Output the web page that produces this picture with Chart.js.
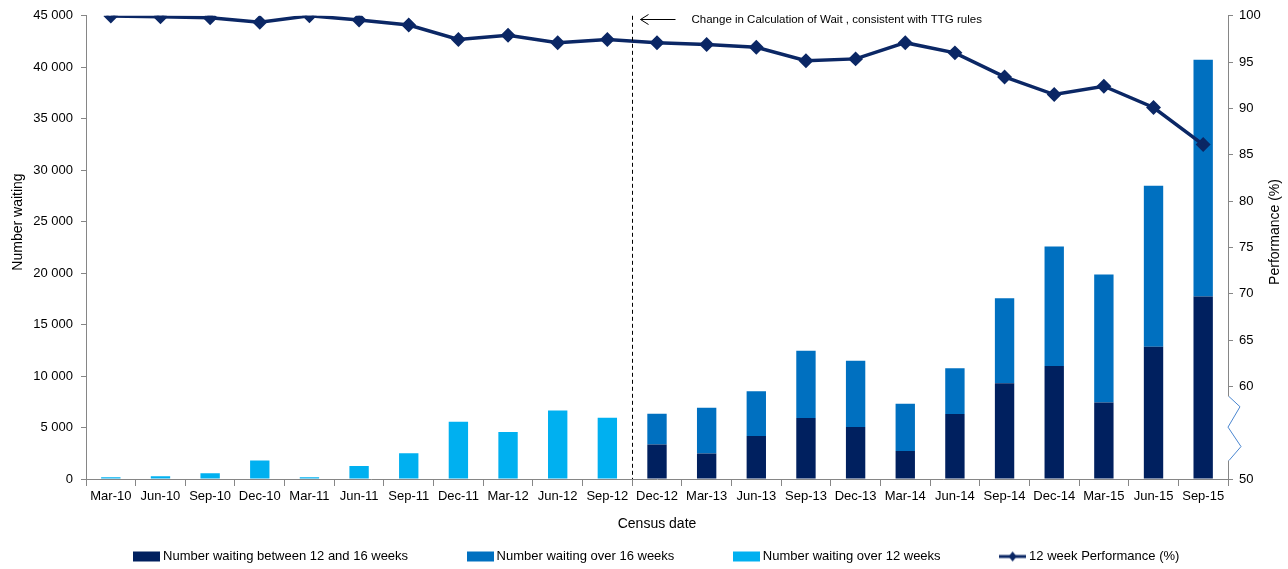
<!DOCTYPE html>
<html>
<head>
<meta charset="utf-8">
<script src="https://cdn.jsdelivr.net/npm/chart.js@4.4.1/dist/chart.umd.min.js"></script>
<style>
    html, body { margin: 0; padding: 0; background: #fff; }
    #wrap { width: 1288px; height: 569px; }
</style>
</head>
<body>
<div id="wrap"><canvas id="waitChart" width="1288" height="569"></canvas></div>
<script>
const censusDates = ['Mar-10', 'Jun-10', 'Sep-10', 'Dec-10', 'Mar-11', 'Jun-11', 'Sep-11', 'Dec-11',
    'Mar-12', 'Jun-12', 'Sep-12', 'Dec-12', 'Mar-13', 'Jun-13', 'Sep-13', 'Dec-13', 'Mar-14',
    'Jun-14', 'Sep-14', 'Dec-14', 'Mar-15', 'Jun-15', 'Sep-15'];

// old rules: one series only, new rules split in two
const waitingOver12 = [170, 260, 560, 1790, 170, 1270, 2500, 5560, 4570, 6660, 5950,
    null, null, null, null, null, null, null, null, null, null, null, null];
const waiting12to16 = [null, null, null, null, null, null, null, null, null, null, null,
    3350, 2480, 4180, 5920, 5050, 2730, 6320, 9290, 10970, 7420, 12850, 17740];
const waitingOver16 = [null, null, null, null, null, null, null, null, null, null, null,
    3000, 4440, 4350, 6540, 6440, 4580, 4450, 8260, 11610, 12450, 15640, 22990];

const performance = [99.98, 99.9, 99.8, 99.3, 100.0, 99.55, 99.0, 97.45, 97.9, 97.1, 97.45,
    97.1, 96.9, 96.6, 95.15, 95.35, 97.1, 96.0, 93.4, 91.5, 92.4, 90.1, 86.1];

const rightTicks = [50, 60, 65, 70, 75, 80, 85, 90, 95, 100];

const FONT = "'Liberation Sans', Arial, sans-serif";
const GREY = '#868686';

const makeSwatch = (color, isLine) => {
    const c = document.createElement('canvas');
    c.width = 27;
    c.height = 12;
    const g = c.getContext('2d');
    if (isLine) {
        g.strokeStyle = color;
        g.lineWidth = 3;
        g.beginPath();
        g.moveTo(0, 6);
        g.lineTo(27, 6);
        g.stroke();
        g.fillStyle = color;
        g.beginPath();
        g.moveTo(13.5, 1);
        g.lineTo(17.5, 6);
        g.lineTo(13.5, 11);
        g.lineTo(9.5, 6);
        g.closePath();
        g.fill();
    } else {
        g.fillStyle = color;
        g.fillRect(0, 1, 27, 10);
    }
    return c;
}

const extras = {
    id: 'extras',
    afterLayout(chart) {
        // wide spacing between legend items, but keep the legend row low
        if (chart.legend) {
            chart.legend.top -= 47;
            chart.legend.left += 14;
            chart.legend.right += 14;
        }
    },
    afterDraw(chart) {
        const ctx = chart.ctx;
        const xs = chart.scales.x;
        const yr = chart.scales.yRight;
        const area = chart.chartArea;
        ctx.save();

        // dashed divider between Sep-12 and Dec-12
        const dx = Math.round(xs.getPixelForValue(10.5)) + 0.5;
        ctx.strokeStyle = '#000';
        ctx.lineWidth = 1;
        ctx.setLineDash([4, 3]);
        ctx.beginPath();
        ctx.moveTo(dx, area.top);
        ctx.lineTo(dx, area.bottom);
        ctx.stroke();
        ctx.setLineDash([]);

        // arrow + note
        const ay = 19.5;
        ctx.beginPath();
        ctx.moveTo(dx + 43, ay);
        ctx.lineTo(dx + 8, ay);
        ctx.moveTo(dx + 16, ay - 5);
        ctx.lineTo(dx + 8, ay);
        ctx.lineTo(dx + 16, ay + 5);
        ctx.stroke();
        ctx.fillStyle = '#000';
        ctx.font = '11.5px ' + FONT;
        ctx.textBaseline = 'middle';
        ctx.textAlign = 'left';
        ctx.fillText('Change in Calculation of Wait , consistent with TTG rules', dx + 59, ay);

        // broken right axis
        const rx = yr.left;
        const yTop = yr.getPixelForValue(58.9);
        const yBot = yr.getPixelForValue(52.0);
        ctx.fillStyle = '#fff';
        ctx.fillRect(rx - 2, yTop, 5, yBot - yTop);
        ctx.strokeStyle = '#4a86d0';
        ctx.lineWidth = 1;
        ctx.beginPath();
        ctx.moveTo(rx + 1, yTop);
        ctx.lineTo(rx + 12, yr.getPixelForValue(57.8));
        ctx.lineTo(rx, yr.getPixelForValue(55.6));
        ctx.lineTo(rx + 13, yr.getPixelForValue(53.5));
        ctx.lineTo(rx + 1, yBot);
        ctx.stroke();

        // axis titles, both reading bottom to top
        ctx.fillStyle = '#000';
        ctx.font = '14px ' + FONT;
        ctx.textAlign = 'center';
        ctx.save();
        ctx.translate(18, 222);
        ctx.rotate(-Math.PI / 2);
        ctx.fillText('Number waiting', 0, 0);
        ctx.restore();
        ctx.translate(1275, 232);
        ctx.rotate(-Math.PI / 2);
        ctx.fillText('Performance (%)', 0, 0);
        ctx.restore();
    }
};

const ctxWait = document.getElementById('waitChart');

const waitChart = new Chart(ctxWait, {
    type: 'bar',
    data: {
        labels: censusDates,
        datasets: [
            {
                label: 'Number waiting between 12 and 16 weeks',
                data: waiting12to16,
                backgroundColor: '#00205f',
                stack: 'w',
                order: 1,
                yAxisID: 'y'
            },
            {
                label: 'Number waiting over 16 weeks',
                data: waitingOver16,
                backgroundColor: '#0070c0',
                stack: 'w',
                order: 1,
                yAxisID: 'y'
            },
            {
                label: 'Number waiting over 12 weeks',
                data: waitingOver12,
                backgroundColor: '#00b0f0',
                stack: 'w',
                order: 1,
                yAxisID: 'y'
            },
            {
                type: 'line',
                label: '12 week Performance (%)',
                data: performance,
                borderColor: '#0b2765',
                backgroundColor: '#0b2765',
                borderWidth: 3.5,
                pointStyle: 'rectRot',
                pointRadius: 5,
                pointHoverRadius: 5,
                tension: 0,
                order: 0,
                yAxisID: 'yRight'
            }
        ]
    },
    options: {
        responsive: false,
        animation: false,
        layout: { padding: { top: 14, left: 0, right: 0, bottom: 0 } },
        datasets: {
            bar: { categoryPercentage: 1, barPercentage: 0.39 }
        },
        plugins: {
            tooltip: { enabled: false },
            legend: {
                display: true,
                position: 'bottom',
                maxHeight: 34,
                labels: {
                    usePointStyle: true,
                    pointStyleWidth: 20,
                    boxHeight: 12,
                    padding: 62,
                    color: '#000',
                    font: { family: FONT, size: 13 },
                    generateLabels: (chart) => chart.data.datasets.map((ds, i) => ({
                        text: ds.label,
                        pointStyle: makeSwatch(ds.type === 'line' ? ds.borderColor : ds.backgroundColor, ds.type === 'line'),
                        fillStyle: ds.backgroundColor,
                        strokeStyle: ds.backgroundColor,
                        lineWidth: 0,
                        hidden: false,
                        datasetIndex: i
                    }))
                }
            }
        },
        scales: {
            x: {
                stacked: true,
                afterFit: (s) => { s.height = 56; },
                grid: { display: true, drawOnChartArea: false, tickLength: 7, color: GREY },
                border: { color: GREY },
                ticks: { autoSkip: false, maxRotation: 0, padding: 3, color: '#000', font: { family: FONT, size: 13 } },
                title: { display: true, text: 'Census date', color: '#000', padding: { top: 4, bottom: 2 }, font: { family: FONT, size: 14 } }
            },
            y: {
                stacked: true,
                position: 'left',
                min: 0,
                max: 45000,
                afterFit: (s) => { s.width = 86; },
                grid: { display: true, drawOnChartArea: false, tickLength: 5, color: GREY },
                border: { color: GREY },
                ticks: {
                    stepSize: 5000,
                    padding: 8,
                    color: '#000',
                    font: { family: FONT, size: 13 },
                    callback: (v) => String(v).replace(/\B(?=(\d{3})+(?!\d))/g, ' ')
                }
            },
            yRight: {
                position: 'right',
                min: 50,
                max: 100,
                afterFit: (s) => { s.width = 60; },
                afterBuildTicks: (s) => { s.ticks = rightTicks.map(v => ({ value: v })); },
                grid: { display: true, drawOnChartArea: false, tickLength: 5, color: GREY },
                border: { color: GREY },
                ticks: { padding: 6, color: '#000', font: { family: FONT, size: 13 } }
            }
        }
    },
    plugins: [extras]
});
</script>
</body>
</html>
